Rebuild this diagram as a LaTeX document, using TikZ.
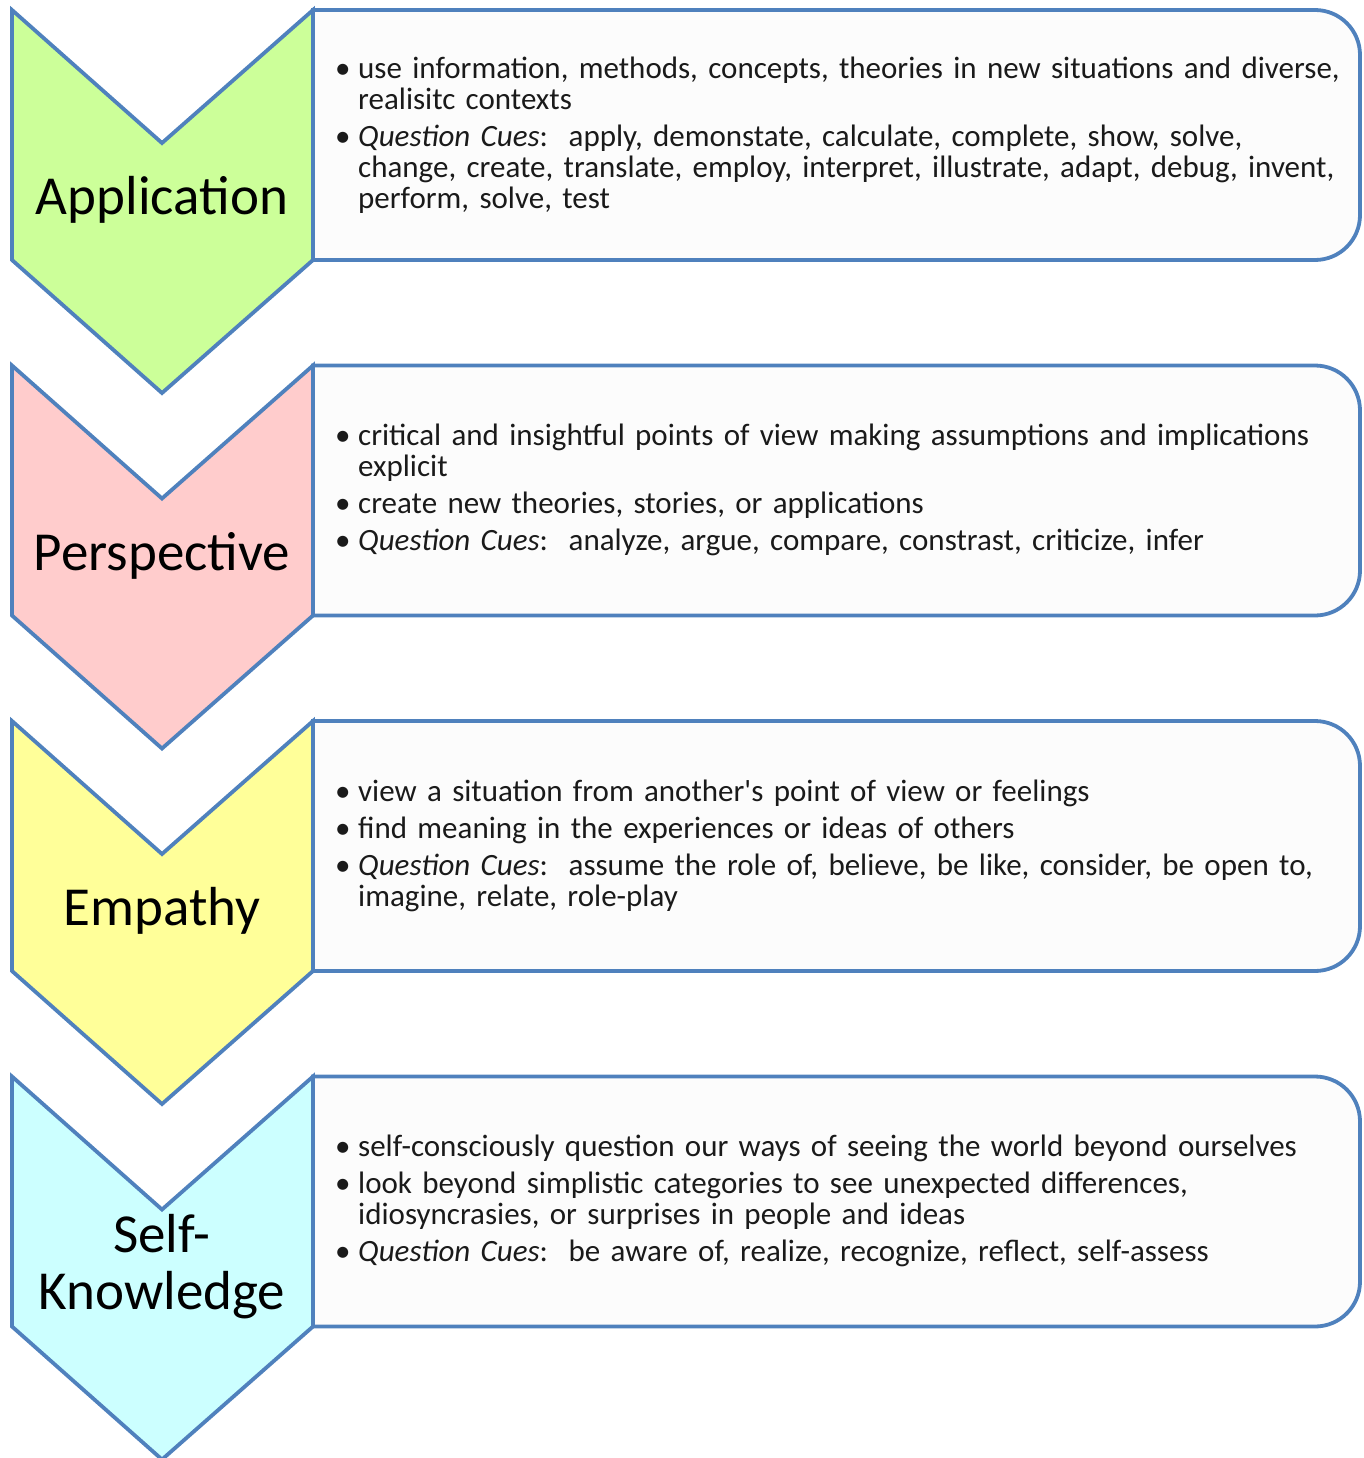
\documentclass[tikz,border=0pt]{standalone}
\usepackage{fontspec}
\setmainfont{Carlito}
\definecolor{chevblue}{HTML}{4F81BD}
\definecolor{appgreen}{HTML}{CCFF99}
\definecolor{perpink}{HTML}{FFCCCC}
\definecolor{empyellow}{HTML}{FFFF99}
\definecolor{selfcyan}{HTML}{CCFFFF}
\definecolor{boxgray}{HTML}{FCFCFC}
\definecolor{inkgray}{HTML}{1A1A1A}

\newcommand{\cue}[1]{\par\noindent\hangindent=24pt\hangafter=1\makebox[24pt][l]{\hspace{1pt}\textbullet}#1\par}
\newcommand{\qcues}{\textit{Question Cues}:\ \ }

\tikzset{
	chevron/.style={draw=chevblue, line width=3.8pt, line join=miter},
	cuebox/.style={draw=chevblue, line width=3.8pt, fill=boxgray},
	cuetext/.style={anchor=west, text width=1020pt, align=left, inner sep=0pt, text=inkgray,
		font=\fontsize{31}{31}\selectfont\setlength{\parskip}{6pt}},
	chevlabel/.style={align=center, text=black, font=\fontsize{55}{57}\selectfont}
}

\begin{document}
\begin{tikzpicture}[x=1pt, y=-1pt]

	\def\rowstep{355.5}
	\def\boxh{250}
	\def\notchy{133}
	\def\tipy{383}
	\def\rad{45}

	\useasboundingbox (0,0) rectangle (1364,1458);

	\foreach \col [count=\i from 0] in {appgreen, perpink, empyellow, selfcyan} {
		\pgfmathsetmacro\t{10+\i*\rowstep}
		% box with rounded right side
		\draw[cuebox] (313,\t) -- (1360-\rad,\t) arc (270:360:\rad) -- (1360,\t+\boxh-\rad) arc (0:90:\rad) -- (313,\t+\boxh) -- cycle;
		% chevron
		\draw[chevron, fill=\col] (12,\t) -- (162,\t+\notchy) -- (313,\t) -- (313,\t+\boxh) -- (162,\t+\tipy) -- (12,\t+\boxh) -- cycle;
	}

	\node[chevlabel] (app) at (162,10+190) {Application};
	\node[chevlabel] (per) at (162,10+\rowstep+190) {Perspective};
	\node[chevlabel] (emp) at (162,10+2*\rowstep+190) {Empathy};
	\node[chevlabel] (self) at (162,10+3*\rowstep+190) {Self-\\Knowledge};

	\node[cuetext] (apptext) at (334,10+117) {%
		\cue{use information, methods, concepts, theories in new situations and diverse,\newline realisitc contexts}
		\cue{\qcues apply, demonstate, calculate, complete, show, solve,\newline change, create, translate, employ, interpret, illustrate, adapt, debug, invent,\newline perform, solve, test}};

	\node[cuetext] (pertext) at (334,10+\rowstep+117) {%
		\cue{critical and insightful points of view making assumptions and implications\newline explicit}
		\cue{create new theories, stories, or applications}
		\cue{\qcues analyze, argue, compare, constrast, criticize, infer}};

	\node[cuetext] (emptext) at (334,10+2*\rowstep+117) {%
		\cue{view a situation from another\textquotesingle s point of view or feelings}
		\cue{find meaning in the experiences or ideas of others}
		\cue{\qcues assume the role of, believe, be like, consider, be open to,\newline imagine, relate, role-play}};

	\node[cuetext] (selftext) at (334,10+3*\rowstep+117) {%
		\cue{self-consciously question our ways of seeing the world beyond ourselves}
		\cue{look beyond simplistic categories to see unexpected differences,\newline idiosyncrasies, or surprises in people and ideas}
		\cue{\qcues be aware of, realize, recognize, reflect, self-assess}};

\end{tikzpicture}
\end{document}
